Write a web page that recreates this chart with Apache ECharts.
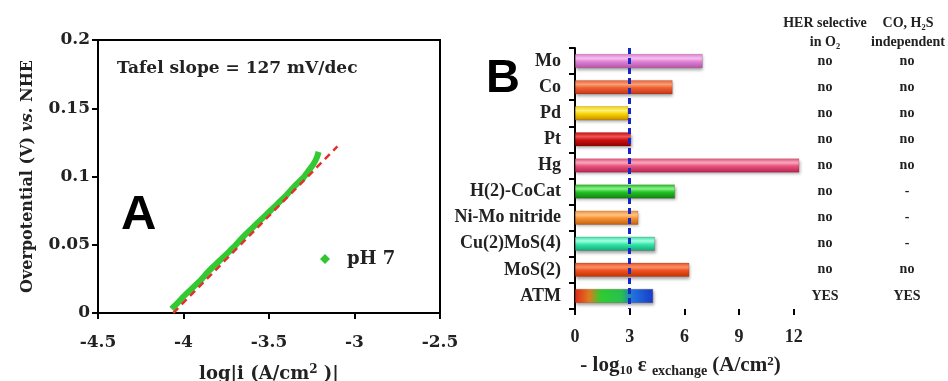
<!DOCTYPE html>
<html><head><meta charset="utf-8">
<script src="https://cdn.jsdelivr.net/npm/echarts@6/dist/echarts.min.js"></script>
<style>html,body{margin:0;padding:0;background:#fff}#c{width:948px;height:381px}</style>
</head><body><div id="c"></div>
<script>
// Panel A data
const phX = [-4.07, -4.03, -4.0, -3.95, -3.9, -3.85, -3.8, -3.75, -3.7, -3.65, -3.6, -3.55, -3.5, -3.45, -3.4, -3.35, -3.3, -3.27, -3.24, -3.22, -3.21];
const phY = [0.003, 0.008, 0.012, 0.018, 0.024, 0.031, 0.037, 0.043, 0.049, 0.056, 0.062, 0.068, 0.074, 0.080, 0.086, 0.093, 0.099, 0.104, 0.109, 0.114, 0.118];
const fitX = [-4.06, -3.10];
const fitY = [0.0, 0.122];
const aXTicks = ['-4.5', '-4', '-3.5', '-3', '-2.5'];
const aYTicks = ['0', '0.05', '0.1', '0.15', '0.2'];
// Panel B data
const categories = ['Mo', 'Co', 'Pd', 'Pt', 'Hg', 'H(2)-CoCat', 'Ni-Mo nitride', 'Cu(2)MoS(4)', 'MoS(2)', 'ATM'];
const exchangeValues = [7.0, 5.35, 2.92, 3.07, 12.3, 5.48, 3.47, 4.38, 6.27, 4.28];
const herSelective = ['no', 'no', 'no', 'no', 'no', 'no', 'no', 'no', 'no', 'YES'];
const coH2SIndependent = ['no', 'no', 'no', 'no', 'no', '-', '-', '-', 'no', 'YES'];
const bXTicks = [0, 3, 6, 9, 12];
const refLineValue = 3;

// styles
const barPalette = [
  ['#b552ab', '#f7c2ef', '#e07fd6'],
  ['#c0361a', '#f9a27a', '#ef5f30'],
  ['#c98a00', '#fff27a', '#f6d400'],
  ['#8a0000', '#f05656', '#cc1010'],
  ['#b52452', '#f9a7bd', '#e8527c'],
  ['#108010', '#8af58a', '#22c022'],
  ['#c2620f', '#ffc488', '#f79232'],
  ['#12a878', '#a6ffe2', '#34e6a8'],
  ['#bf3200', '#f9926a', '#ef5222'],
  null
];
function vgrad(p) {
  return new echarts.graphic.LinearGradient(0, 0, 0, 1, [
    {offset: 0, color: p[2]}, {offset: 0.3, color: p[1]}, {offset: 0.55, color: p[2]}, {offset: 1, color: p[0]}
  ]);
}
const atmGrad = new echarts.graphic.LinearGradient(0, 0, 1, 0, [
  {offset: 0, color: '#e02a1a'}, {offset: 0.18, color: '#e07a20'}, {offset: 0.33, color: '#30cc30'},
  {offset: 0.6, color: '#28c050'}, {offset: 0.75, color: '#2070e0'}, {offset: 1, color: '#1a3cc8'}
]);

const serifA = 'DejaVu Serif';
const serifB = 'Liberation Serif';

const chart = echarts.init(document.getElementById('c'), null, {renderer: 'canvas'});
chart.setOption({
  animation: false,
  backgroundColor: '#fff',
  grid: [
    {left: 98, right: 508, top: 40, bottom: 68, show: true, borderColor: '#000', borderWidth: 2, backgroundColor: 'transparent', outerBoundsMode: 'none', containLabel: false},
    {left: 575, right: 136, top: 48, bottom: 72, outerBoundsMode: 'none', containLabel: false}
  ],
  legend: {
    data: [{name: 'pH 7', icon: 'diamond'}],
    left: 315, top: 245, itemWidth: 10, itemHeight: 10, itemGap: 8,
    textStyle: {fontFamily: serifA, fontWeight: 'bold', fontSize: 18, color: '#222', padding: [0, 0, 0, 12]}
  },
  xAxis: [
    {
      gridIndex: 0, type: 'value', min: -4.5, max: -2.5, interval: 0.5,
      axisLine: {lineStyle: {color: '#000', width: 2}},
      axisTick: {show: true, inside: false, length: 6, lineStyle: {color: '#000', width: 2}},
      splitLine: {show: false},
      axisLabel: {formatter: (v) => aXTicks[Math.round((v + 4.5) / 0.5)], fontFamily: serifA, fontWeight: 'bold', fontSize: 17, color: '#222', margin: 21},
      name: 'log|i (A/cm{p|2} )|', nameLocation: 'middle', nameGap: 51,
      nameTextStyle: {fontFamily: serifA, fontWeight: 'bold', fontSize: 18, color: '#222',
        rich: {p: {fontFamily: serifA, fontWeight: 'bold', fontSize: 12, color: '#222', padding: [0, 0, 8, 0]}}}
    },
    {
      gridIndex: 1, type: 'value', min: 0, max: 13, interval: 3,
      axisLine: {lineStyle: {color: '#000', width: 2}},
      axisTick: {show: true, length: 6, lineStyle: {color: '#000', width: 2}, customValues: bXTicks},
      splitLine: {show: false},
      axisLabel: {customValues: bXTicks, fontFamily: serifB, fontWeight: 'bold', fontSize: 18, color: '#222', margin: 19},
      name: '- log{s|10} ε {e|exchange} (A/cm{p|2})', nameLocation: 'middle', nameGap: 45,
      nameTextStyle: {fontFamily: serifB, fontWeight: 'bold', fontSize: 21, color: '#222', padding: [0, 26, 0, 0],
        rich: {
          s: {fontFamily: serifB, fontWeight: 'bold', fontSize: 13, color: '#222', padding: [10, 0, 0, 0]},
          e: {fontFamily: serifB, fontWeight: 'bold', fontSize: 14, color: '#222', padding: [10, 0, 0, 0]},
          p: {fontFamily: serifB, fontWeight: 'bold', fontSize: 13, color: '#222', padding: [0, 0, 9, 0]}
        }}
    }
  ],
  yAxis: [
    {
      gridIndex: 0, type: 'value', min: 0, max: 0.2, interval: 0.05,
      axisLine: {show: true, lineStyle: {color: '#000', width: 2}},
      axisTick: {show: true, length: 6, lineStyle: {color: '#000', width: 2}},
      splitLine: {show: false},
      axisLabel: {formatter: (v) => aYTicks[Math.round(v / 0.05)], fontFamily: serifA, fontWeight: 'bold', fontSize: 17, color: '#222', margin: 8},
      name: '{a|Overpotential (V) }{b|vs.}{a| NHE}', nameLocation: 'middle', nameGap: 62, nameRotate: 90,
      nameTextStyle: {
        rich: {
          a: {fontFamily: serifA, fontWeight: 'bold', fontSize: 16, color: '#222'},
          b: {fontFamily: serifA, fontWeight: 'bold', fontStyle: 'italic', fontSize: 16, color: '#222'}
        }
      }
    },
    {
      gridIndex: 1, type: 'category', data: categories, inverse: true,
      axisLine: {show: true, lineStyle: {color: '#000', width: 2}},
      axisTick: {show: true, length: 6, lineStyle: {color: '#000', width: 2}},
      axisLabel: {fontFamily: serifB, fontWeight: 'bold', fontSize: 18, color: '#222', margin: 14}
    },
    {
      gridIndex: 1, type: 'category', data: categories, inverse: true, position: 'right',
      axisLine: {show: false}, axisTick: {show: false},
      axisLabel: {formatter: (v, i) => herSelective[i], align: 'center', margin: 13,
        fontFamily: serifB, fontWeight: 'bold', fontSize: 14, color: '#222'}
    },
    {
      gridIndex: 1, type: 'category', data: categories, inverse: true, position: 'right',
      axisLine: {show: false}, axisTick: {show: false},
      axisLabel: {formatter: (v, i) => coH2SIndependent[i], align: 'center', margin: 95,
        fontFamily: serifB, fontWeight: 'bold', fontSize: 14, color: '#222'}
    }
  ],
  series: [
    {
      name: 'pH 7', type: 'line', xAxisIndex: 0, yAxisIndex: 0,
      data: phX.map((x, i) => [x, phY[i]]),
      showSymbol: false, symbol: 'diamond', symbolSize: 10,
      itemStyle: {color: '#2fc62f'},
      lineStyle: {color: '#33c933', width: 6}, smooth: 0.2
    },
    {
      name: 'fit', type: 'line', xAxisIndex: 0, yAxisIndex: 0,
      data: fitX.map((x, i) => [x, fitY[i]]),
      showSymbol: false,
      lineStyle: {color: '#e3312b', width: 2.5, type: [7, 5]}
    },
    {
      name: 'exchange', type: 'bar', xAxisIndex: 1, yAxisIndex: 1, barWidth: 14,
      data: exchangeValues.map((v, i) => ({
        value: v,
        itemStyle: {
          color: barPalette[i] ? vgrad(barPalette[i]) : atmGrad,
          borderColor: 'rgba(90,20,20,0.35)', borderWidth: 0.5,
          shadowColor: 'rgba(0,0,0,0.35)', shadowBlur: 3, shadowOffsetX: 1, shadowOffsetY: 2
        }
      })),
      markLine: {
        silent: true, symbol: ['none', 'none'], label: {show: false},
        lineStyle: {color: '#1428c8', width: 3, type: [6, 4]},
        data: [{xAxis: refLineValue}]
      }
    }
  ],
  graphic: [
    {type: 'text', left: 117, top: 60, style: {text: 'Tafel slope = 127 mV/dec', font: 'bold 17px "DejaVu Serif"', fill: '#222'}},
    {type: 'text', left: 121, top: 191, style: {text: 'A', font: 'bold 49px "Liberation Sans"', fill: '#000'}},
    {type: 'text', left: 486, top: 56, style: {text: 'B', font: 'bold 47px "Liberation Sans"', fill: '#000'}},
    {type: 'text', x: 825, y: 14, style: {text: 'HER selective\nin O₂', font: 'bold 14px "Liberation Serif"', fill: '#222', align: 'center', lineHeight: 19}},
    {type: 'text', x: 908, y: 14, style: {text: 'CO, H₂S\nindependent', font: 'bold 14px "Liberation Serif"', fill: '#222', align: 'center', lineHeight: 19}}
  ]
});
</script>
</body></html>
